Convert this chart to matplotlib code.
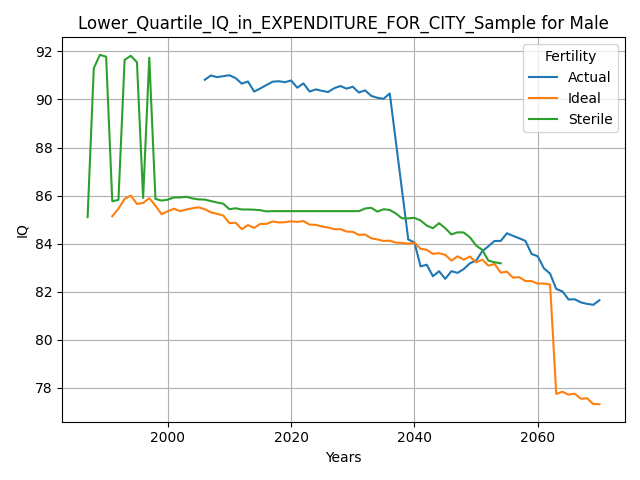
import numpy as np
import matplotlib
matplotlib.use("Agg")
import matplotlib.pyplot as plt

# Actual (2037, 2038 absent)
actual_years = list(range(2006, 2037)) + list(range(2039, 2071))
actual_iq = [
    90.82, 91.00, 90.93, 90.97, 91.01, 90.89, 90.66, 90.75, 90.33, 90.46,
    90.60, 90.74, 90.76, 90.72, 90.79, 90.49, 90.67, 90.33, 90.42, 90.36,
    90.31, 90.47, 90.56, 90.45, 90.53, 90.29, 90.38, 90.15, 90.07, 90.03,
    90.25,
    84.17, 84.05, 83.05, 83.12, 82.64, 82.85, 82.53, 82.85, 82.78, 82.94,
    83.18, 83.29, 83.68, 83.89, 84.11, 84.11, 84.43, 84.32, 84.22, 84.11,
    83.57, 83.47, 82.97, 82.75, 82.11, 82.01, 81.67, 81.68, 81.55, 81.49,
    81.45, 81.64,
]

ideal_years = list(range(1991, 2071))
ideal_iq = [
    85.14, 85.45, 85.86, 86.00, 85.65, 85.69, 85.89, 85.58, 85.22, 85.35,
    85.45, 85.35, 85.42, 85.47, 85.51, 85.43, 85.30, 85.24, 85.17, 84.85,
    84.87, 84.60, 84.77, 84.65, 84.82, 84.82, 84.92, 84.88, 84.89, 84.93,
    84.90, 84.94, 84.79, 84.78, 84.71, 84.67, 84.60, 84.60, 84.50, 84.49,
    84.36, 84.38, 84.22, 84.17, 84.11, 84.12, 84.04, 84.03, 83.99, 84.04,
    83.78, 83.74, 83.57, 83.60, 83.53, 83.29, 83.47, 83.33, 83.46, 83.22,
    83.33, 83.08, 83.15, 82.79, 82.83, 82.58, 82.60, 82.44, 82.44, 82.33,
    82.34, 82.29, 77.74, 77.83, 77.71, 77.75, 77.54, 77.56, 77.32, 77.31,
]

sterile_years = list(range(1987, 2055))
sterile_iq = [
    85.10, 91.30, 91.86, 91.78, 85.76, 85.82, 91.65, 91.82, 91.55, 85.90,
    91.74, 85.86, 85.79, 85.83, 85.92, 85.92, 85.95, 85.88, 85.84, 85.83,
    85.77, 85.71, 85.66, 85.43, 85.47, 85.42, 85.42, 85.41, 85.39, 85.34,
    85.35, 85.35, 85.35, 85.35, 85.35, 85.35, 85.35, 85.35, 85.35, 85.35,
    85.35, 85.35, 85.35, 85.35, 85.35, 85.46, 85.49, 85.33, 85.43, 85.40,
    85.25, 85.05, 85.05, 85.07, 84.96, 84.75, 84.64, 84.85, 84.64, 84.38,
    84.47, 84.46, 84.26, 83.92, 83.74, 83.29, 83.22, 83.18,
]

fig, ax = plt.subplots(figsize=(6.4, 4.8), dpi=100)

ax.plot(actual_years, actual_iq, label="Actual")
ax.plot(ideal_years, ideal_iq, label="Ideal")
ax.plot(sterile_years, sterile_iq, label="Sterile")

ax.set_title("Lower_Quartile_IQ_in_EXPENDITURE_FOR_CITY_Sample for Male")
ax.set_xlabel("Years")
ax.set_ylabel("IQ")
ax.grid()
ax.legend(title="Fertility", loc="upper right")

plt.tight_layout()
plt.savefig("out.png", dpi=100)
